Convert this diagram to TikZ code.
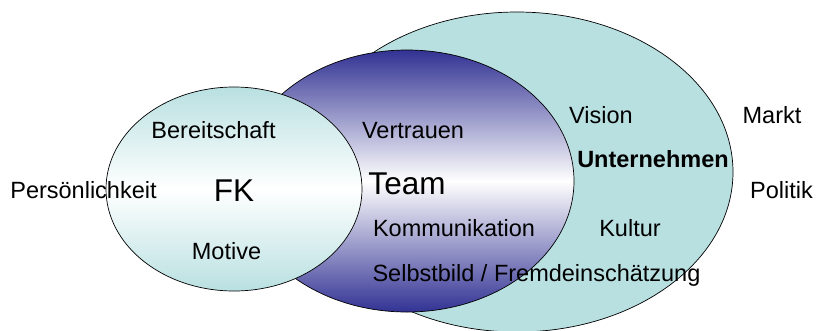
\documentclass[tikz,border=0pt]{standalone}
\usepackage{fontspec}
\setmainfont{Liberation Sans}
\definecolor{teal0}{RGB}{185,224,225}
\definecolor{navy0}{RGB}{50,50,148}
\begin{document}
\begin{tikzpicture}[x=1pt,y=-1pt,
  outline/.style={draw=black,line width=0.7pt},
  lbl/.style={inner sep=0pt,anchor=base,font=\fontsize{23.5}{28}\selectfont},
  big/.style={inner sep=0pt,anchor=base,font=\fontsize{31.5}{36}\selectfont}]
\useasboundingbox (0,0) rectangle (816,330);
% company ellipse (flat fill)
\fill[teal0] (517,172) ellipse [x radius=216pt, y radius=160pt];
\draw[outline] (517,172) ellipse [x radius=216pt, y radius=160pt];
% team ellipse, blue at top and bottom fading to white in the middle
\shade[top color=navy0,bottom color=navy0,middle color=white]
  (407,181) ellipse [x radius=167pt, y radius=131pt];
\draw[outline] (407,181) ellipse [x radius=167pt, y radius=131pt];
% leader ellipse
\shade[top color=teal0,bottom color=teal0,middle color=white]
  (234,189) ellipse [x radius=128pt, y radius=102pt];
\draw[outline] (234,189) ellipse [x radius=128pt, y radius=102pt];
% labels
\node[lbl] (pers) at (83.5,198.5) {Persönlichkeit};
\node[big] (fk) at (234,201) {FK};
\node[lbl] (bereit) at (213.5,138.5) {Bereitschaft};
\node[lbl] (motive) at (226.5,259) {Motive};
\node[lbl] (vertr) at (413,138.5) {Vertrauen};
\node[big] (team) at (407,194) {Team};
\node[lbl] (komm) at (454,236) {Kommunikation};
\node[lbl] (selbst) at (536.5,281.5) {Selbstbild / Fremdeinschätzung};
\node[lbl] (vision) at (601,123.3) {Vision};
\node[lbl,font=\fontsize{23.5}{28}\selectfont\bfseries] (unt) at (653,167.3) {Unternehmen};
\node[lbl] (kultur) at (630,236) {Kultur};
\node[lbl] (markt) at (772,123.3) {Markt};
\node[lbl] (politik) at (781.5,198.3) {Politik};
\end{tikzpicture}
\end{document}
